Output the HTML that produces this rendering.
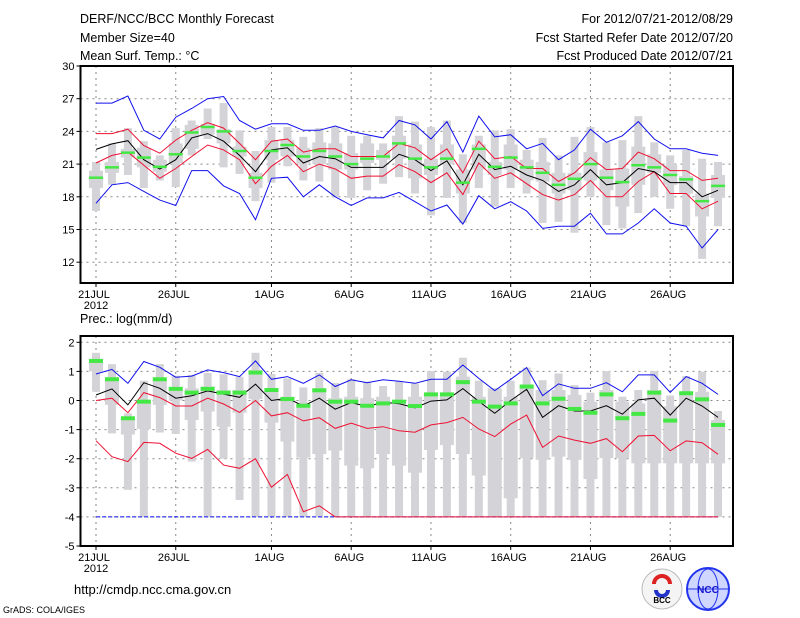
<!DOCTYPE html>
<html><head><meta charset="utf-8">
<style>
html,body{margin:0;padding:0;background:#fff;}
svg{display:block;font-family:"Liberation Sans",sans-serif;}
</style></head>
<body>
<svg id="chart" width="800" height="618" viewBox="0 0 800 618" xmlns="http://www.w3.org/2000/svg">
<g font-size="12.5" fill="#000">
<text x="80" y="23">DERF/NCC/BCC Monthly Forecast</text>
<text x="80" y="42">Member Size=40</text>
<text x="80" y="60">Mean Surf. Temp.: °C</text>
<text x="733" y="23" text-anchor="end">For 2012/07/21-2012/08/29</text>
<text x="733" y="42" text-anchor="end">Fcst Started Refer Date 2012/07/20</text>
<text x="733" y="60" text-anchor="end">Fcst Produced Date 2012/07/21</text>
</g>
<text x="80" y="323" font-size="12.5">Prec.: log(mm/d)</text>
<text x="74" y="594" font-size="13">http://cmdp.ncc.cma.gov.cn</text>
<text x="3" y="613" font-size="9">GrADS: COLA/IGES</text>
<g>
<circle cx="662" cy="589" r="20" fill="#f4f4f4" stroke="#bbb"/>
<path d="M654 584 a8 8 0 1 1 16 0" fill="none" stroke="#d22" stroke-width="4"/>
<path d="M656 590 a6 6 0 0 0 12 0" fill="none" stroke="#23c" stroke-width="4"/>
<text x="662" y="603" font-size="8" text-anchor="middle" font-weight="bold">BCC</text>
</g>
<g>
<circle cx="708" cy="589" r="21" fill="#cfd6ff" stroke="#23e" stroke-width="2"/>
<ellipse cx="708" cy="589" rx="10" ry="20" fill="none" stroke="#23e"/>
<line x1="688" y1="589" x2="728" y2="589" stroke="#23e"/>
<text x="708" y="593" font-size="10" text-anchor="middle" fill="#11c" font-weight="bold">NCC</text>
</g>
<g id="topPanel"></g>
<g id="botPanel"></g>
</svg>
<script>
const days = ["21JUL","26JUL","1AUG","6AUG","11AUG","16AUG","21AUG","26AUG"];
const dayIdx = [0,5,11,16,21,26,31,36];
const tTicks = [30,27,24,21,18,15,12];
const pTicks = [2,1,0,-1,-2,-3,-4,-5];
const tBlueHi = [26.6,26.6,27.25,24.1,23.3,25.3,26.1,27.0,27.2,25.0,24.2,24.7,24.7,24.1,24.1,24.5,24.0,23.7,23.4,25.0,24.6,23.3,24.9,22.1,25.4,23.5,23.7,22.4,22.9,21.4,22.3,24.2,23.0,23.6,24.9,23.3,22.4,22.4,22.0,21.8];
const tRedHi = [23.8,23.8,24.2,22.7,22.0,23.2,24.1,24.8,24.3,22.9,21.4,23.1,23.3,22.1,22.4,22.4,21.7,21.7,21.7,22.9,22.5,21.4,22.4,20.2,23.1,21.5,21.7,20.6,20.6,19.4,20.2,21.6,20.5,20.6,22.1,21.5,20.4,20.4,19.5,19.7];
const tMean = [22.35,22.85,23.15,21.4,20.55,21.4,23.4,23.8,23.1,21.8,20.3,22.3,22.5,21.1,21.7,21.5,20.7,20.7,20.7,21.9,21.4,20.4,21.3,19.1,21.9,20.5,20.8,20.0,19.5,18.5,19.1,20.5,19.1,19.3,20.6,20.3,19.3,19.3,18.0,18.6];
const tRedLo = [21.1,21.8,22.1,20.9,19.7,20.6,21.7,22.75,22.3,21.4,19.2,20.8,21.8,20.3,21.0,20.55,19.7,19.9,19.9,20.95,20.3,19.3,20.2,18.2,21.1,19.7,20.2,19.2,18.2,17.7,18.2,19.5,18.0,18.0,19.4,20.3,18.3,18.3,16.9,17.6];
const tBlueLo = [17.4,19.1,19.3,18.5,17.7,17.2,20.4,20.4,19.0,18.3,15.9,19.7,19.8,18.0,19.1,18.0,17.2,17.9,17.9,18.4,17.55,16.7,17.25,15.5,18.1,16.9,17.55,16.7,15.1,15.3,15.3,16.5,14.6,14.6,15.6,16.9,15.6,15.3,13.3,15.0];
const tMedian = [19.75,20.7,22.05,21.6,20.75,21.9,23.9,24.4,24.0,22.2,19.75,22.2,22.75,21.7,22.2,21.7,21.0,21.5,21.7,22.9,21.5,20.7,21.5,19.3,22.4,20.75,21.6,20.7,20.2,19.1,19.65,21.0,19.75,19.35,20.9,20.7,20.0,19.6,17.6,19.0];
const tWLo = [16.7,19.1,20.0,18.8,19.5,18.9,21.8,23.3,20.7,20.1,17.6,19.3,20.8,19.5,19.4,18.0,17.9,18.6,19.2,19.8,18.3,16.3,17.9,15.6,18.8,17.1,18.8,18.3,15.6,15.7,14.7,18.0,15.4,15.1,16.5,18.0,16.9,15.3,12.3,15.3];
const tQ1 = [18.8,20.2,21.6,20.7,20.3,21.1,22.4,23.7,22.9,21.7,18.8,21.4,21.7,21.1,21.0,20.5,20.5,21.1,21.4,21.5,19.7,20.0,21.0,18.3,20.5,20.0,20.5,19.5,19.4,18.3,18.6,19.5,18.6,17.1,19.1,20.2,19.1,18.3,16.2,17.9];
const tQ3 = [20.4,21.2,22.4,22.5,21.4,22.9,24.6,24.7,24.2,22.6,20.2,23.2,23.2,22.5,23.0,22.9,22.0,22.9,22.3,23.6,22.8,21.5,22.8,20.5,22.8,21.2,22.8,21.4,21.2,20.2,20.2,22.1,20.5,20.6,22.6,21.9,20.9,19.9,18.3,20.0];
const tWHi = [21.2,22.9,24.3,23.1,21.8,24.3,25.0,26.1,26.6,24.1,22.2,24.4,24.4,23.5,24.3,24.4,23.6,23.6,22.9,25.4,24.9,24.4,25.0,21.9,23.6,24.1,24.2,22.3,23.4,21.8,23.5,24.4,23.0,23.2,25.4,23.0,21.8,22.3,21.5,21.2];

const pBlueHi = [0.91,1.07,0.59,1.34,1.14,0.8,0.84,1.05,0.96,0.82,1.36,0.73,0.82,0.59,0.88,0.48,0.71,0.61,0.71,0.66,0.59,0.73,0.73,1.22,0.76,0.34,0.73,1.13,0.17,0.57,0.42,0.42,0.61,0.3,0.88,0.88,0.28,0.82,0.59,0.21];
const pMean = [0.19,0.4,-0.15,0.61,0.42,0.08,0.16,0.33,0.22,0.11,0.56,0.0,0.08,-0.19,0.08,-0.3,-0.07,-0.21,-0.06,-0.11,-0.25,-0.02,0.02,0.41,-0.03,-0.44,0.0,0.38,-0.58,-0.18,-0.36,-0.36,-0.18,-0.47,0.02,0.08,-0.5,0.08,-0.19,-0.58];
const pRedHi = [0.0,0.08,-0.42,0.27,0.1,-0.19,-0.19,0.08,-0.12,-0.41,0.0,-0.53,-0.42,-0.7,-0.59,-0.96,-0.78,-0.96,-0.9,-1.04,-1.09,-0.84,-0.76,-0.58,-0.98,-1.24,-0.81,-0.5,-1.61,-1.22,-1.36,-1.47,-1.31,-1.76,-1.22,-1.2,-1.73,-1.39,-1.45,-1.85];
const pRedLo = [-1.38,-1.93,-2.1,-1.44,-1.47,-1.81,-1.99,-1.68,-2.22,-2.33,-2.0,-2.98,-2.54,-3.82,-3.62,-4,-4,-4,-4,-4,-4,-4,-4,-4,-4,-4,-4,-4,-4,-4,-4,-4,-4,-4,-4,-4,-4,-4,-4,-4];
const pBlueLo = [-4,-4,-4,-4,-4,-4,-4,-4,-4,-4,-4,-4,-4,-4,-4,-4,-4,-4,-4,-4,-4,-4,-4,-4,-4,-4,-4,-4,-4,-4,-4,-4,-4,-4,-4,-4,-4,-4,-4,-4];
const pMedian = [1.36,0.73,-0.61,-0.04,0.73,0.4,0.27,0.4,0.27,0.27,0.96,0.36,0.05,-0.18,0.35,-0.04,-0.04,-0.18,-0.1,-0.04,-0.19,0.21,0.21,0.63,-0.04,-0.21,-0.1,0.48,-0.1,0.06,-0.29,-0.42,0.21,-0.61,-0.46,0.27,-0.69,0.25,0.04,-0.84];
const pWLo = [0.3,-1.13,-3.07,-4,-1.1,-1.15,-2.1,-4,-2.0,-3.42,-4,-4,-4,-4,-4,-4,-4,-4,-4,-4,-4,-4,-4,-4,-4,-4,-4,-4,-4,-4,-4,-4,-4,-4,-4,-4,-4,-4,-4,-4];
const pQ1 = [1.0,-0.15,-1.17,-0.98,-0.15,0.0,-0.67,-0.38,-0.9,-0.42,0.05,-0.76,-1.41,-1.96,-1.84,-1.72,-2.24,-2.33,-1.84,-2.24,-2.48,-1.7,-1.53,-1.84,-2.58,-4,-3.36,-1.98,-2.04,-1.93,-2.04,-2.7,-1.98,-1.98,-2.16,-2.16,-2.16,-2.16,-2.16,-2.16];
const pQ3 = [1.34,0.8,-0.6,0.0,0.73,0.45,0.42,0.48,0.35,0.36,1.05,0.36,0.13,-0.1,0.42,0.08,0.13,0.08,0.13,0.02,0.13,0.25,0.25,0.82,0.13,0.42,0.13,0.48,0.36,0.36,0.19,-0.04,0.36,-0.04,-0.1,0.36,-0.2,0.3,0.3,-0.67];
const pWHi = [1.64,1.25,-0.44,0.68,1.25,0.85,0.88,0.95,0.9,0.82,1.64,0.91,0.76,0.45,0.95,0.6,0.73,0.65,0.5,0.65,0.59,1.01,0.99,1.47,0.68,0.42,0.68,1.13,0.7,0.93,0.53,0.27,1.01,0.13,0.36,1.01,0.17,0.84,0.99,-0.36];

const NS = "http://www.w3.org/2000/svg";
const X0 = 80.5, X1 = 733;
function xDay(d){ return 96 + 15.95*d; }
function yT(v){ return 66 + (30 - v)*10.9; }
function yP(v){ return 342.3 + (2 - v)*29.1; }
function mk(parent, tag, attrs){
  const e = document.createElementNS(NS, tag);
  for (const k in attrs) e.setAttribute(k, attrs[k]);
  parent.appendChild(e);
  return e;
}
function panel(g, y0, y1, ticks, yf, name){
  dayIdx.forEach((d,i)=>{
    const l = mk(g,'line',{x1:xDay(d),x2:xDay(d),y1:y0,y2:y1,stroke:'#888','stroke-dasharray':'2,4','stroke-width':1});
    
    
    const tk = mk(g,'line',{x1:xDay(d),x2:xDay(d),y1:y1,y2:y1+4,stroke:'#000'});
    
    
    const t = mk(g,'text',{x:xDay(d)-2,y:y1+15,'font-size':11,'text-anchor':'middle'});
    t.textContent = days[i];
    
    
  });
  const yr = mk(g,'text',{x:96,y:y1+26,'font-size':11,'text-anchor':'middle'});
  yr.textContent = '2012';
  
  
  ticks.forEach(v=>{
    const y = yf(v);
    if (y > y0+1 && y < y1-1){
      const l = mk(g,'line',{x1:X0,x2:X1,y1:y,y2:y,stroke:'#888','stroke-dasharray':'2,4'});
      
      
    }
    const tk = mk(g,'line',{x1:X0-4,x2:X0,y1:y,y2:y,stroke:'#000'});
    
    
    const t = mk(g,'text',{x:X0-6,y:y+4,'font-size':11,'text-anchor':'end'});
    t.textContent = v;
    
    
  });
}
function boxes(g, wlo, q1, q3, whi, yf, name){
  wlo.forEach((_,d)=>{
    const x = xDay(d);
    const w = mk(g,'rect',{x:x-4,y:yf(whi[d]),width:8,height:Math.max(0,yf(wlo[d])-yf(whi[d])),fill:'#d4d4d8'});
    
    
    const b = mk(g,'rect',{x:x-7,y:yf(q3[d]),width:14,height:Math.max(0,yf(q1[d])-yf(q3[d])),fill:'#d4d4d8'});
    
    
  });
}
function line(g, arr, yf, color, name, dash){
  const pts = arr.map((v,d)=>xDay(d)+','+yf(v).toFixed(1)).join(' ');
  const p = mk(g,'polyline',{points:pts,fill:'none',stroke:color,'stroke-width':1});
  if (dash) p.setAttribute('stroke-dasharray', dash);
  
  
}
function medians(g, arr, yf, h, name){
  arr.forEach((v,d)=>{
    const r = mk(g,'rect',{x:xDay(d)-7,y:yf(v)-h/2,width:14,height:h,fill:'#44e844'});
    
    
  });
}
function frame(g, y0, y1, name){
  const r = mk(g,'rect',{x:X0,y:y0,width:X1-X0,height:y1-y0,fill:'none',stroke:'#000','stroke-width':2});
  
  
}
const gTop = document.getElementById('topPanel');
panel(gTop, 66, 283, tTicks, yT, 'temp');
boxes(gTop, tWLo, tQ1, tQ3, tWHi, yT, 'temp');
line(gTop, tBlueHi, yT, '#1010ee', 'temp-max-line');
line(gTop, tBlueLo, yT, '#1010ee', 'temp-min-line');
line(gTop, tRedHi, yT, '#ee1133', 'temp-upper-line');
line(gTop, tRedLo, yT, '#ee1133', 'temp-lower-line');
line(gTop, tMean, yT, '#000', 'temp-mean-line');
medians(gTop, tMedian, yT, 2.5, 'temp-median');
frame(gTop, 66, 283, 'temp');

const gBot = document.getElementById('botPanel');
panel(gBot, 336, 546, pTicks, yP, 'prec');
boxes(gBot, pWLo, pQ1, pQ3, pWHi, yP, 'prec');
line(gBot, pBlueHi, yP, '#1010ee', 'prec-max-line');
line(gBot, pBlueLo, yP, '#1010ee', 'prec-min-line', '4,2');
line(gBot, pRedHi, yP, '#ee1133', 'prec-upper-line');
line(gBot, pRedLo, yP, '#ee1133', 'prec-lower-line');
line(gBot, pMean, yP, '#000', 'prec-mean-line');
medians(gBot, pMedian, yP, 4, 'prec-median');
frame(gBot, 336, 546, 'prec');
</script>
</body></html>
